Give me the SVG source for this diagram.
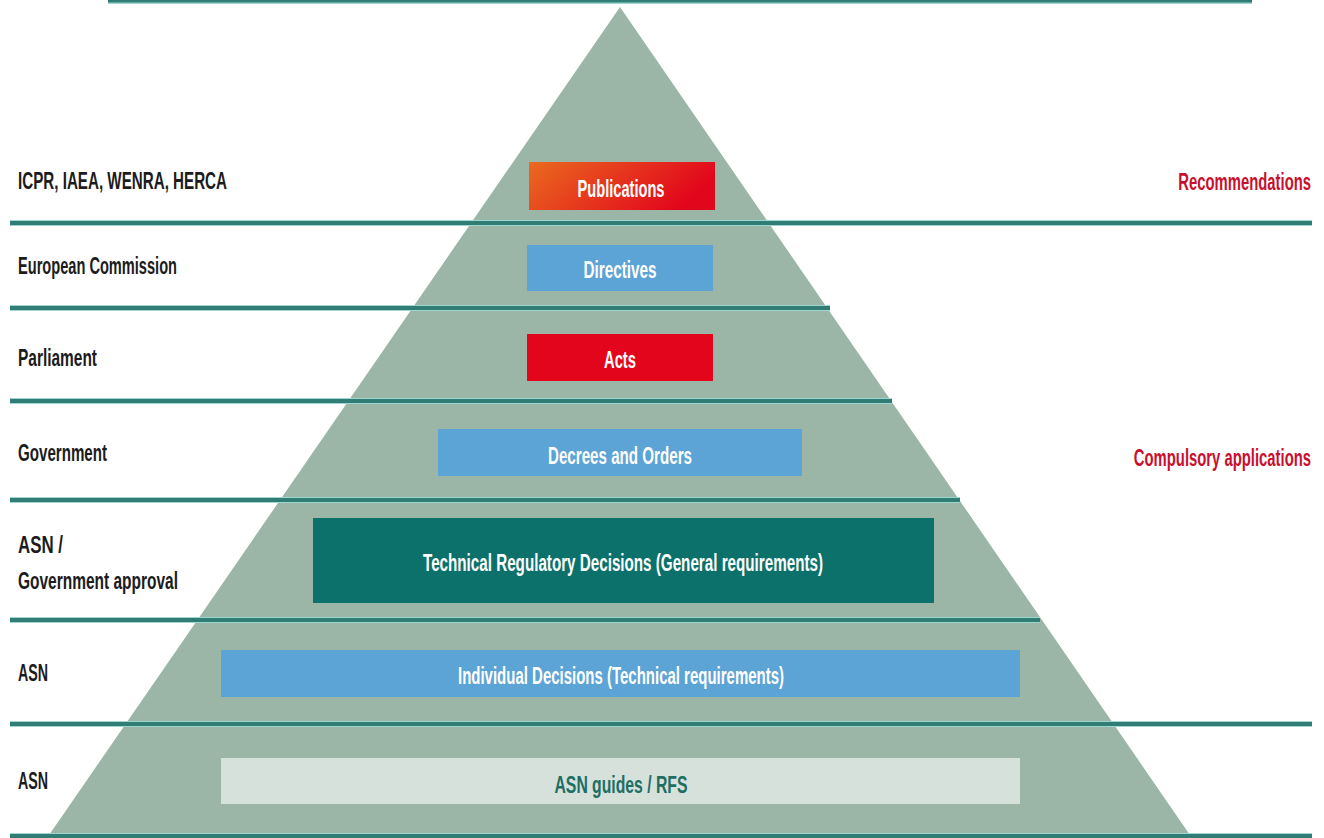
<svg xmlns="http://www.w3.org/2000/svg" width="1324" height="838" viewBox="0 0 1324 838">
<style>
.lbl{font-family:"Liberation Sans Narrow","Liberation Sans",Arial,sans-serif;font-weight:bold;font-size:23px;fill:#1c1c1c}
.rl{font-family:"Liberation Sans Narrow","Liberation Sans",Arial,sans-serif;font-weight:bold;font-size:23px;fill:#c8102e;text-anchor:end}
.bt{font-family:"Liberation Sans Narrow","Liberation Sans",Arial,sans-serif;font-weight:bold;font-size:23px;fill:#ffffff;text-anchor:middle}
.dk{fill:#1f6e64}
.ln{stroke:#2f7d75;stroke-width:4;fill:none}
.lh{stroke:#9fd6d2;stroke-width:6;fill:none}
.blue{fill:#5ca3d6}
</style>
<defs>
<linearGradient id="pubg" x1="0" y1="0" x2="1" y2="0.3">
<stop offset="0" stop-color="#ea6a1f"/>
<stop offset="1" stop-color="#e2061c"/>
</linearGradient>
</defs>
<rect width="1324" height="838" fill="#ffffff"/>
<polygon id="pyramid" points="620,7 1192,838 47,838" fill="#9bb6a6"/>
<g id="lines">
<line class="lh" x1="108" y1="1" x2="1252" y2="1"/>
<line class="ln" x1="108" y1="1" x2="1252" y2="1" style="stroke-width:3"/>
<line class="lh" x1="10" y1="223" x2="1312" y2="223"/>
<line class="ln" x1="10" y1="223" x2="1312" y2="223"/>
<line class="lh" x1="10" y1="308" x2="830" y2="308"/>
<line class="ln" x1="10" y1="308" x2="830" y2="308"/>
<line class="lh" x1="10" y1="401" x2="892" y2="401"/>
<line class="ln" x1="10" y1="401" x2="892" y2="401"/>
<line class="lh" x1="10" y1="500" x2="960" y2="500"/>
<line class="ln" x1="10" y1="500" x2="960" y2="500"/>
<line class="lh" x1="10" y1="620" x2="1040" y2="620"/>
<line class="ln" x1="10" y1="620" x2="1040" y2="620"/>
<line class="lh" x1="10" y1="724" x2="1312" y2="724"/>
<line class="ln" x1="10" y1="724" x2="1312" y2="724"/>
<line class="lh" x1="10" y1="836" x2="1312" y2="836"/>
<line class="ln" x1="10" y1="836" x2="1312" y2="836"/>
</g>
<g id="left-labels">
<text class="lbl" x="18" y="189" textLength="209" lengthAdjust="spacingAndGlyphs">ICPR, IAEA, WENRA, HERCA</text>
<text class="lbl" x="18" y="274" textLength="159" lengthAdjust="spacingAndGlyphs">European Commission</text>
<text class="lbl" x="18" y="366" textLength="79" lengthAdjust="spacingAndGlyphs">Parliament</text>
<text class="lbl" x="18" y="461" textLength="89" lengthAdjust="spacingAndGlyphs">Government</text>
<text class="lbl" x="18" y="553" textLength="45" lengthAdjust="spacingAndGlyphs">ASN /</text>
<text class="lbl" x="18" y="589" textLength="160" lengthAdjust="spacingAndGlyphs">Government approval</text>
<text class="lbl" x="18" y="681" textLength="30" lengthAdjust="spacingAndGlyphs">ASN</text>
<text class="lbl" x="18" y="789" textLength="30" lengthAdjust="spacingAndGlyphs">ASN</text>
</g>
<g id="right-labels">
<text class="rl" transform="translate(1311,190) scale(0.645,1)" x="0" y="0">Recommendations</text>
<text class="rl" transform="translate(1311,466) scale(0.645,1)" x="0" y="0">Compulsory applications</text>
</g>
<g id="publications">
<rect x="529" y="162" width="186" height="48" fill="url(#pubg)"/>
<text class="bt" x="621" y="197" textLength="87" lengthAdjust="spacingAndGlyphs">Publications</text>
</g>
<g id="directives">
<rect class="blue" x="527" y="245" width="186" height="46"/>
<text class="bt" x="620" y="278" textLength="73" lengthAdjust="spacingAndGlyphs">Directives</text>
</g>
<g id="acts">
<rect x="527" y="334" width="186" height="47" fill="#e3051b"/>
<text class="bt" x="620" y="368" textLength="32" lengthAdjust="spacingAndGlyphs">Acts</text>
</g>
<g id="decrees">
<rect class="blue" x="438" y="429" width="364" height="47"/>
<text class="bt" x="620" y="464" textLength="144" lengthAdjust="spacingAndGlyphs">Decrees and Orders</text>
</g>
<g id="technical">
<rect x="313" y="518" width="621" height="85" fill="#0c716b"/>
<text class="bt" x="623" y="571" textLength="400" lengthAdjust="spacingAndGlyphs">Technical Regulatory Decisions (General requirements)</text>
</g>
<g id="individual">
<rect class="blue" x="221" y="650" width="799" height="47"/>
<text class="bt" x="621" y="684" textLength="326" lengthAdjust="spacingAndGlyphs">Individual Decisions (Technical requirements)</text>
</g>
<g id="guides">
<rect x="221" y="758" width="799" height="46" fill="#d6e1db"/>
<text class="bt dk" x="621" y="793" textLength="133" lengthAdjust="spacingAndGlyphs">ASN guides / RFS</text>
</g>
</svg>
